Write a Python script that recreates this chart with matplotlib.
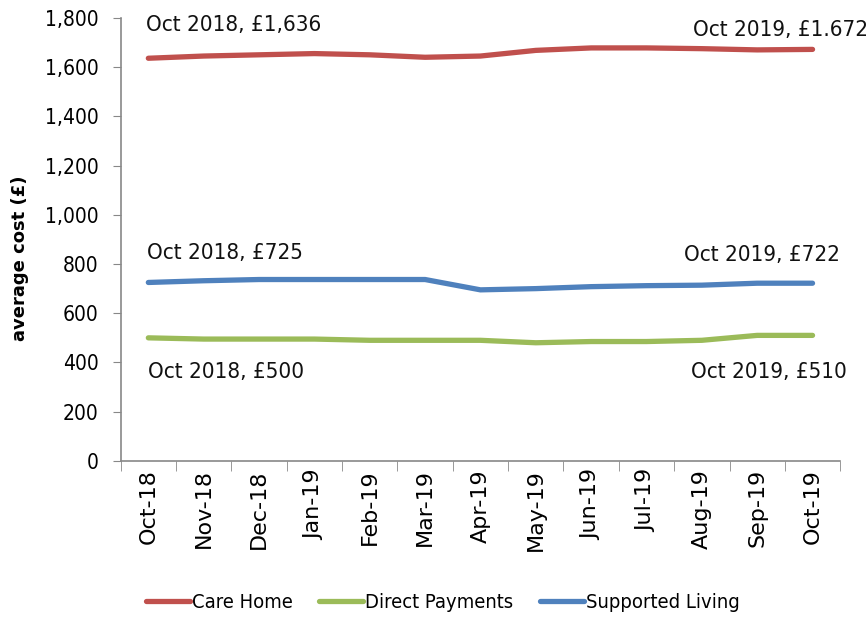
import matplotlib
matplotlib.use("Agg")
from matplotlib import pyplot as plt
from matplotlib import font_manager
from matplotlib.ticker import FuncFormatter, FixedLocator
import numpy as np

months = ["Oct-18", "Nov-18", "Dec-18", "Jan-19", "Feb-19", "Mar-19", "Apr-19",
          "May-19", "Jun-19", "Jul-19", "Aug-19", "Sep-19", "Oct-19"]
care_home = [1636, 1645, 1650, 1655, 1650, 1640, 1645, 1668, 1678, 1678, 1675, 1670, 1672]
direct_payments = [500, 495, 495, 495, 490, 490, 490, 480, 485, 485, 490, 510, 510]
supported_living = [725, 732, 737, 737, 737, 737, 695, 700, 708, 712, 714, 722, 722]

narrow = dict(family="DejaVu Sans", stretch="condensed")

fig = plt.figure(figsize=(8.68, 6.17), dpi=100)
ax = fig.add_axes([0.139, 0.253, 0.829, 0.718])

x = np.arange(len(months))
ax.plot(x, care_home, color="#C0504D", lw=3.8, solid_capstyle="round", label="Care Home")
ax.plot(x, direct_payments, color="#9BBB59", lw=3.8, solid_capstyle="round", label="Direct Payments")
ax.plot(x, supported_living, color="#4F81BD", lw=3.8, solid_capstyle="round", label="Supported Living")

ax.set_ylim(0, 1800)
ax.set_xlim(-0.5, len(months) - 0.5)
ax.set_yticks(range(0, 1801, 200))
ax.yaxis.set_major_formatter(FuncFormatter(lambda v, p: f"{int(v):,}"))
ax.set_xticks(x)
ax.set_xticklabels(months, rotation=90, fontsize=16, family="DejaVu Sans")
ax.tick_params(axis="x", which="major", length=0, pad=6)
ax.xaxis.set_minor_locator(FixedLocator(np.arange(-0.5, len(months), 1)))
ax.tick_params(axis="x", which="minor", length=7, color="#888888")
ax.tick_params(axis="y", length=6, color="#888888", labelsize=15, pad=10)
for lab in ax.get_yticklabels():
    lab.set_family("DejaVu Sans")
    lab.set_stretch("condensed")

for s in ["top", "right"]:
    ax.spines[s].set_visible(False)
for s in ["left", "bottom"]:
    ax.spines[s].set_color("#888888")
    ax.spines[s].set_linewidth(1.2)

ax.set_ylabel("average cost (\u00a3)", fontsize=13, fontweight="bold")
ax.yaxis.set_label_coords(-0.128, 0.458)

tk = dict(fontsize=16, color="#111111", va="center", **narrow)
ax.text(-0.05, 1772, "Oct 2018, \u00a31,636", ha="left", **tk)
ax.text(13.0, 1751, "Oct 2019, \u00a31.672", ha="right", **tk)
ax.text(-0.02, 845, "Oct 2018, \u00a3725", ha="left", **tk)
ax.text(12.5, 837, "Oct 2019, \u00a3722", ha="right", **tk)
ax.text(0.0, 362, "Oct 2018, \u00a3500", ha="left", **tk)
ax.text(12.62, 362, "Oct 2019, \u00a3510", ha="right", **tk)

leg = fig.legend(loc="center", bbox_to_anchor=(0.51, 0.023), ncol=3, frameon=False,
                 prop=font_manager.FontProperties(size=14.5, **narrow), handlelength=2.2,
                 handletextpad=0.1, columnspacing=1.3)

fig.savefig("out.png", dpi=100)
